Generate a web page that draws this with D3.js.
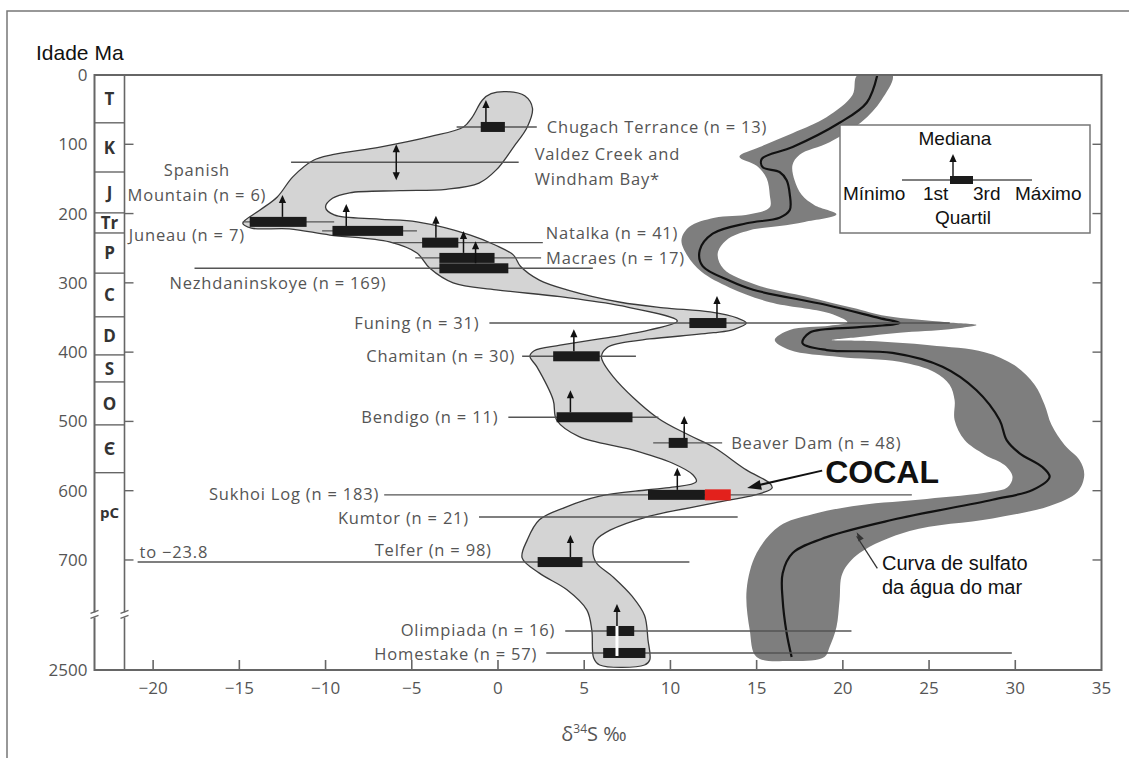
<!DOCTYPE html>
<html>
<head>
<meta charset="utf-8">
<script src="https://cdn.jsdelivr.net/npm/d3@7/dist/d3.min.js"></script>
<style>
  body { margin: 0; background: #fff; }
  svg { display: block; }
</style>
</head>
<body>
<div id="chart"></div>
<script>
// -------------------- Data --------------------
const sampleNames = ["Chugach Terrance", "Valdez Creek and Windham Bay*", "Spanish Mountain", "Juneau",
  "Natalka", "Macraes", "Nezhdaninskoye", "Funing", "Chamitan", "Bendigo", "Beaver Dam",
  "Sukhoi Log", "Kumtor", "Telfer", "Olimpiada", "Homestake"];
const sampleN   = [13, null, 6, 7, 41, 17, 169, 31, 30, 11, 48, 183, 21, 98, 16, 57];
const sampleAge = [75, 126, 212, 225, 242, 264, 279, 358, 406, 494, 531, 606, 638, 703, 1271, 1964];
const sampleMin = [-2.4, -12.0, -14.8, -10.2, -6.1, -4.8, -17.6, -0.5, 1.4, 0.6, 9.0, -6.6, -1.1, -23.8, 3.9, 2.8];
const sampleQ1  = [-1.0, null, -14.4, -9.6, -4.4, -3.4, -3.4, 11.1, 3.2, 3.4, 9.9, 8.7, null, 2.3, 6.3, 6.1];
const sampleMed = [-0.7, -5.9, -12.5, -8.8, -3.6, -2.0, -1.3, 12.7, 4.4, 4.2, 10.8, 10.4, null, 4.2, 6.9, null];
const sampleQ3  = [0.4, null, -11.1, -5.5, -2.3, -0.2, 0.6, 13.25, 5.9, 7.8, 11.0, 12.0, null, 4.9, 7.9, 8.55];
const sampleMax = [2.25, 1.2, -9.5, -4.7, 2.6, 2.5, 5.5, 26.2, 8.0, 9.3, 13.0, 24.0, 13.9, 11.1, 20.5, 29.8];

const cocalRange = [12.0, 13.5];
const cocalArrow = [[18.8, 571], [14.45, 596]];
const curvaArrow = [[22.0, 712], [20.8, 660]];

const periodNames  = ["T", "K", "J", "Tr", "P", "C", "D", "S", "O", "Є", "pC"];
const periodBounds = [0, 69, 140, 199, 228, 286, 349, 404, 443, 505, 574];

const ageTicks = [0, 100, 200, 300, 400, 500, 600, 700, 2500];
const dTicks = [-20, -15, -10, -5, 0, 5, 10, 15, 20, 25, 30, 35];

// envelope of ore-deposit sulfur values (light grey band), [d34S, age]
const envelope = [[0.5,24],[1.55,30],[2.0,48],[1.7,75],[0.9,104],[-0.1,137],[-1.1,156],[-3.0,165],
  [-5.7,167],[-8.6,170],[-9.6,178],[-10.0,191],[-9.5,202],[-6.9,208],[-4.7,212],[-1.6,231],[-0.2,245],
  [0.9,260],[1.3,276],[2.4,296],[4.0,310],[7.1,328],[9.6,336],[12.3,342],[13.9,351],[14.4,358],
  [13.7,367],[12.5,372],[8.8,381],[7.1,387],[6.3,394],[6.0,407],[6.7,436],[9.2,494],[11.1,520],
  [12.5,537],[14.4,570],[15.75,589],[15.9,596],[15.35,603],[12.5,618],[8.6,638],[6.5,657],[5.7,671],
  [5.5,686],[5.7,704],[6.65,724],[7.8,753],[8.5,780],[8.7,1555],[8.8,2185],[8.5,2342],[5.9,2342],
  [5.55,2122],[5.44,1240],[5.15,772],[4.0,743],[2.4,719],[1.4,697],[1.7,671],[2.4,642],[3.9,624],
  [5.9,608],[8.6,599],[10.1,595],[11.5,587],[11.3,577],[10.1,560],[7.8,541],[4.7,522],[3.4,498],
  [3.2,469],[2.25,421],[1.85,406],[2.1,398],[3.6,390],[6.65,378],[8.8,368],[10.4,355],[7.1,333],
  [3.6,320],[-0.1,310],[-2.6,300],[-3.95,279],[-4.7,257],[-6.3,241],[-9.75,231],[-12.1,222],
  [-14.3,221],[-14.8,214],[-13.8,195],[-12.8,176],[-11.9,147],[-10.7,123],[-9.6,115],[-6.85,104],
  [-3.95,89],[-2.0,75],[-1.5,61],[-0.9,36],[-0.4,27]];

// seawater sulfate band (dark grey), [d34S, age]
const seawaterBand = [[20.85,0],[22.88,0],[22.24,36],[21.08,68],[19.23,97],[17.49,115],[17.08,130],
  [17.2,152],[17.61,173],[18.36,188],[19.63,201],[17.78,212],[16.33,218],[14.6,224],[13.26,238],
  [12.74,258],[13.09,280],[15.0,303],[17.9,320],[20.56,336],[22.53,348],[26.0,357],[27.75,361],
  [26.18,367],[23.29,372],[20.97,378],[19.35,382.5],[21.55,384],[25.03,390],[28.22,400],[29.96,419],
  [31.12,447],[31.7,476],[32.1,505],[32.86,534],[33.73,556],[34.0,577],[33.6,602],[31.99,622],
  [28.68,640],[23.87,658],[20.97,690],[19.98,719],[19.81,758],[19.63,1145],[19.23,1775],[18.93,2090],
  [16.92,2216],[15.0,2090],[14.6,1240],[14.42,743],[15.0,690],[16.33,651],[18.24,634],[20.97,621],
  [24.86,612],[28.51,602],[29.55,595],[29.84,580],[29.38,563],[28.22,548],[27.06,527],[26.48,498],
  [26.48,469],[26.19,447],[25.32,429],[23.29,414],[19.81,407],[16.92,397],[16.05,382.5],[16.92,368],
  [19.23,362],[20.27,357],[19.23,344],[15.76,328],[13.44,307],[11.8,284],[10.99,261],[10.64,238],
  [11.1,219],[12.56,206],[14.6,201],[15.76,191],[15.76,173],[15.58,149],[15.0,131],[14.0,118],
  [15.18,104],[17.08,84],[19.05,61],[20.56,29]];

// seawater sulfate curve (black line), [d34S, age]
const seawaterLine = [[22.0,0],[21.38,40],[19.81,69],[17.09,104],[15.3,121],[15.35,133],[16.33,140],
  [16.74,152],[16.92,172],[16.92,195],[16.33,206],[14.42,214],[12.45,229],[11.7,253],[11.87,276],
  [13.44,297],[14.8,310],[19.06,332],[22.13,351],[23.29,358],[20.97,364],[18.07,372],[17.66,387],
  [19.06,397],[22.88,401],[25.78,421],[27.75,455],[29.09,498],[29.5,527],[30.25,546],[31.58,566],
  [31.99,580],[31.0,599],[28.68,613],[22.88,642],[19.06,667],[17.09,690],[16.51,719],[16.51,758],
  [16.74,1334],[17.03,2090]];

// -------------------- Label layout --------------------
const labelLayout = [
  { at: "max", dx: 10, dy: 0, anchor: "start" },
  { at: "max", dx: 16, dy: -8, anchor: "start", lines: ["Valdez Creek and", "Windham Bay*"] },
  { at: -17.46, dx: 0, dy: -52, anchor: "middle", lines: ["Spanish", "Mountain (n = 6)"] },
  { at: -14.68, dx: 0, dy: 4, anchor: "end" },
  { at: "max", dx: 3, dy: -9, anchor: "start" },
  { at: "max", dx: 5, dy: 0, anchor: "start" },
  { at: "min", dx: -25, dy: 15, anchor: "start" },
  { at: "min", dx: -10, dy: 0, anchor: "end" },
  { at: "min", dx: -7, dy: 0, anchor: "end" },
  { at: "min", dx: -10, dy: 0, anchor: "end" },
  { at: "max", dx: 9, dy: 0, anchor: "start" },
  { at: "min", dx: -5, dy: -1, anchor: "end" },
  { at: "min", dx: -10, dy: 1, anchor: "end" },
  { at: -0.36, dx: 0, dy: -12, anchor: "end" },
  { at: "min", dx: -10, dy: -1, anchor: "end" },
  { at: "min", dx: -9, dy: 1, anchor: "end" }
];
const clipMin = -20.9;   // Telfer minimum runs off the chart ("to -23.8")

// -------------------- SVG container --------------------
const width = 1129, height = 758;
const svg = d3.select("#chart").append("svg")
  .attr("width", width).attr("height", height);

const x = d3.scaleLinear().domain([-23.4, 35]).range([94.5, 1101.5]);
const y = d3.scaleLinear().domain([0, 780, 2500]).range([75, 615.4, 670]);

const plotL = x.range()[0], plotR = x.range()[1];
const plotT = y.range()[0], plotB = y.range()[2];
const colRight = plotL + 30;
const grey = "#666", textGrey = "#555";
const labelFont = "'Open Sans', sans-serif";
const arialFont = "'Liberation Sans', Arial, sans-serif";

// outer border of the figure
svg.append("path")
  .attr("d", `M7,${height} V11 H${width}`)
  .attr("fill", "none").attr("stroke", "#777").attr("stroke-width", 1.5);

svg.append("defs").append("clipPath").attr("id", "plot")
  .append("rect").attr("x", plotL).attr("y", plotT)
  .attr("width", plotR - plotL).attr("height", plotB - plotT);

const plot = svg.append("g").attr("clip-path", "url(#plot)");

// -------------------- Seawater sulfate --------------------
plot.append("path")
  .attr("d", d3.line().x(d => x(d[0])).y(d => y(d[1]))
    .curve(d3.curveCatmullRomClosed.alpha(0.5))(seawaterBand))
  .attr("fill", "#7e7e7e");

plot.append("path")
  .attr("d", d3.line().x(d => x(d[0])).y(d => y(d[1]))
    .curve(d3.curveCatmullRom.alpha(0.5))(seawaterLine))
  .attr("fill", "none").attr("stroke", "#111").attr("stroke-width", 2.2);

// -------------------- Envelope --------------------
plot.append("path")
  .attr("d", d3.line().x(d => x(d[0])).y(d => y(d[1]))
    .curve(d3.curveCatmullRomClosed.alpha(0.5))(envelope))
  .attr("fill", "#d4d4d4").attr("stroke", "#3a3a3a").attr("stroke-width", 1.3);

// -------------------- Box plots --------------------
const samples = sampleNames.map((name, i) => ({
  name, n: sampleN[i], age: sampleAge[i], min: sampleMin[i], q1: sampleQ1[i],
  med: sampleMed[i], q3: sampleQ3[i], max: sampleMax[i], layout: labelLayout[i]
}));
const boxH = 10;

const whisk = svg.append("g");
whisk.selectAll("line").data(samples).join("line")
  .attr("x1", d => x(Math.max(d.min, clipMin))).attr("x2", d => x(d.max))
  .attr("y1", d => y(d.age)).attr("y2", d => y(d.age))
  .attr("stroke", "#555").attr("stroke-width", 1.4);

const boxed = samples.filter(d => d.q1 != null);
svg.append("g").selectAll("rect").data(boxed).join("rect")
  .attr("x", d => x(d.q1)).attr("width", d => x(d.q3) - x(d.q1))
  .attr("y", d => y(d.age) - boxH / 2).attr("height", boxH)
  .attr("fill", "#1b1b1b");

// COCAL interval on the Sukhoi Log row
const sukhoi = samples[sampleNames.indexOf("Sukhoi Log")];
svg.append("rect")
  .attr("x", x(cocalRange[0])).attr("width", x(cocalRange[1]) - x(cocalRange[0]))
  .attr("y", y(sukhoi.age) - 5.5).attr("height", 11)
  .attr("fill", "#e3211c");

// white split through the Olimpiada / Homestake boxes
const olim = samples[sampleNames.indexOf("Olimpiada")];
const home = samples[sampleNames.indexOf("Homestake")];
svg.append("line")
  .attr("x1", x(olim.med)).attr("x2", x(olim.med))
  .attr("y1", y(olim.age) - boxH / 2).attr("y2", y(home.age) + 3)
  .attr("stroke", "#fff").attr("stroke-width", 3);

function arrowHead(g, cx, tipY, dir) {
  // dir = -1 points up, +1 points down
  g.append("path")
    .attr("d", `M${cx},${tipY} L${cx - 3.6},${tipY - dir * 8} L${cx + 3.6},${tipY - dir * 8} Z`)
    .attr("fill", "#111");
}

const arrows = svg.append("g");
samples.filter(d => d.med != null && d.q1 != null).forEach(d => {
  const cx = x(d.med), base = y(d.age) - boxH / 2, tip = base - 22;
  arrows.append("line").attr("x1", cx).attr("x2", cx).attr("y1", base).attr("y2", tip + 6)
    .attr("stroke", "#111").attr("stroke-width", 1.5);
  arrowHead(arrows, cx, tip, -1);
});

// Valdez Creek: double-headed arrow, no box
const valdez = samples[1];
{
  const cx = x(valdez.med), cy = y(valdez.age);
  arrows.append("line").attr("x1", cx).attr("x2", cx).attr("y1", cy - 12).attr("y2", cy + 12)
    .attr("stroke", "#111").attr("stroke-width", 1.5);
  arrowHead(arrows, cx, cy - 18, -1);
  arrowHead(arrows, cx, cy + 18, 1);
}

// -------------------- Sample labels --------------------
const labels = svg.append("g")
  .attr("font-family", labelFont).attr("font-size", 16.5).attr("letter-spacing", 0.8)
  .attr("fill", textGrey);

samples.forEach(d => {
  const L = d.layout;
  const ax = L.at === "max" ? x(d.max) : L.at === "min" ? x(Math.max(d.min, clipMin)) : x(L.at);
  const lines = L.lines || [`${d.name} (n = ${d.n})`];
  lines.forEach((t, k) => {
    labels.append("text")
      .attr("x", ax + L.dx).attr("y", y(d.age) + L.dy + k * 25)
      .attr("dy", "0.35em").attr("text-anchor", L.anchor)
      .text(t);
  });
});

labels.append("text")
  .attr("x", x(clipMin) + 2).attr("y", y(sampleAge[13]) - 10).attr("dy", "0.35em")
  .text("to −23.8");

// -------------------- Annotations --------------------
svg.append("line")
  .attr("x1", x(cocalArrow[0][0])).attr("y1", y(cocalArrow[0][1]))
  .attr("x2", x(cocalArrow[1][0]) + 8).attr("y2", y(cocalArrow[1][1]) - 2)
  .attr("stroke", "#111").attr("stroke-width", 2);
{
  const tx = x(cocalArrow[1][0]), ty = y(cocalArrow[1][1]);
  const ang = Math.atan2(y(cocalArrow[0][1]) - ty, x(cocalArrow[0][0]) - tx);
  const L = 14, w = 5;
  const bx = tx + L * Math.cos(ang), by = ty + L * Math.sin(ang);
  svg.append("path")
    .attr("d", `M${tx},${ty} L${bx - w * Math.sin(ang)},${by + w * Math.cos(ang)} L${bx + w * Math.sin(ang)},${by - w * Math.cos(ang)} Z`)
    .attr("fill", "#111");
}
svg.append("text")
  .attr("x", x(cocalArrow[0][0]) + 3).attr("y", y(cocalArrow[0][1]) + 12)
  .attr("font-family", arialFont).attr("font-weight", "bold").attr("font-size", 32)
  .attr("fill", "#111").text("COCAL");

svg.append("line")
  .attr("x1", x(curvaArrow[0][0])).attr("y1", y(curvaArrow[0][1]))
  .attr("x2", x(curvaArrow[1][0])).attr("y2", y(curvaArrow[1][1]) + 4)
  .attr("stroke", "#333").attr("stroke-width", 1.3);
{
  const tx = x(curvaArrow[1][0]), ty = y(curvaArrow[1][1]);
  const ang = Math.atan2(y(curvaArrow[0][1]) - ty, x(curvaArrow[0][0]) - tx);
  const L = 9, w = 3;
  const bx = tx + L * Math.cos(ang), by = ty + L * Math.sin(ang);
  svg.append("path")
    .attr("d", `M${tx},${ty} L${bx - w * Math.sin(ang)},${by + w * Math.cos(ang)} L${bx + w * Math.sin(ang)},${by - w * Math.cos(ang)} Z`)
    .attr("fill", "#333");
}
const curva = svg.append("g").attr("font-family", arialFont).attr("font-size", 20).attr("fill", "#111");
curva.append("text").attr("x", 882).attr("y", 570).text("Curva de sulfato");
curva.append("text").attr("x", 882).attr("y", 594).text("da água do mar");

// -------------------- Legend --------------------
const lg = svg.append("g").attr("font-family", arialFont).attr("font-size", 19).attr("fill", "#111");
lg.append("rect").attr("x", 840).attr("y", 125).attr("width", 250).attr("height", 108)
  .attr("fill", "#fff").attr("stroke", "#777").attr("stroke-width", 1.5);
lg.append("line").attr("x1", 902).attr("x2", 1032).attr("y1", 180).attr("y2", 180)
  .attr("stroke", "#555").attr("stroke-width", 1.4);
lg.append("rect").attr("x", 950).attr("y", 176).attr("width", 23).attr("height", 8).attr("fill", "#1b1b1b");
lg.append("line").attr("x1", 953).attr("x2", 953).attr("y1", 176).attr("y2", 160)
  .attr("stroke", "#111").attr("stroke-width", 1.4);
arrowHead(lg, 953, 154, -1);
lg.append("text").attr("x", 955).attr("y", 145).attr("text-anchor", "middle").text("Mediana");
lg.append("text").attr("x", 843).attr("y", 200).text("Mínimo");
lg.append("text").attr("x", 923).attr("y", 200).text("1st");
lg.append("text").attr("x", 973).attr("y", 200).text("3rd");
lg.append("text").attr("x", 1015).attr("y", 200).text("Máximo");
lg.append("text").attr("x", 963).attr("y", 224).attr("text-anchor", "middle").text("Quartil");

// -------------------- Frame, period column and axes --------------------
const frame = svg.append("g").attr("stroke", grey).attr("fill", "none");
frame.append("rect").attr("x", plotL).attr("y", plotT)
  .attr("width", plotR - plotL).attr("height", plotB - plotT).attr("stroke-width", 2);
frame.append("line").attr("x1", colRight).attr("x2", colRight).attr("y1", plotT).attr("y2", plotB)
  .attr("stroke-width", 1.6);
frame.selectAll(".pb").data(periodBounds.slice(1)).join("line")
  .attr("x1", plotL).attr("x2", colRight).attr("y1", d => y(d)).attr("y2", d => y(d))
  .attr("stroke-width", 1.4);

const inner = ageTicks.filter(a => a > 0 && a < 2500);
frame.selectAll(".tl").data(inner).join("line")
  .attr("x1", colRight).attr("x2", colRight + 9).attr("y1", d => y(d)).attr("y2", d => y(d))
  .attr("stroke-width", 1.4);
frame.selectAll(".tr").data(inner).join("line")
  .attr("x1", plotR).attr("x2", plotR - 9).attr("y1", d => y(d)).attr("y2", d => y(d))
  .attr("stroke-width", 1.4);
frame.selectAll(".tx").data(dTicks.filter(v => v < 35)).join("line")
  .attr("x1", d => x(d)).attr("x2", d => x(d)).attr("y1", plotB).attr("y2", plotB - 10)
  .attr("stroke-width", 1.6);

// axis break marks
const brk = y(780) - 1;
[plotL, colRight].forEach(bx => {
  svg.append("rect").attr("x", bx - 4).attr("y", brk - 2).attr("width", 8).attr("height", 5).attr("fill", "#fff");
  svg.append("path")
    .attr("d", `M${bx - 4},${brk - 1} L${bx + 4},${brk - 4} M${bx - 4},${brk + 4} L${bx + 4},${brk + 1}`)
    .attr("stroke", grey).attr("stroke-width", 1.3);
});

svg.append("g").attr("font-family", labelFont).attr("font-weight", "bold")
  .attr("font-size", 17).attr("fill", "#333").attr("text-anchor", "middle")
  .selectAll("text").data(periodNames).join("text")
  .attr("x", (plotL + colRight) / 2)
  .attr("y", (d, i) => i < periodNames.length - 1 ? y((periodBounds[i] + periodBounds[i + 1]) / 2) : y(632))
  .attr("dy", "0.36em")
  .attr("font-size", d => d === "pC" ? 15 : 17)
  .text(d => d);

svg.append("g").attr("font-family", labelFont).attr("font-size", 17).attr("fill", textGrey)
  .attr("text-anchor", "end")
  .selectAll("text").data(ageTicks).join("text")
  .attr("x", plotL - 7).attr("y", d => y(d)).attr("dy", "0.35em")
  .text(d => d);

svg.append("g").attr("font-family", labelFont).attr("font-size", 17).attr("fill", textGrey)
  .attr("text-anchor", "middle")
  .selectAll("text").data(dTicks).join("text")
  .attr("x", d => x(d)).attr("y", plotB + 24)
  .text(d => d3.format("d")(d));

const xt = svg.append("text").attr("x", (plotL + plotR) / 2 - 4).attr("y", 741)
  .attr("font-family", labelFont).attr("font-size", 20).attr("fill", textGrey)
  .attr("text-anchor", "middle");
xt.append("tspan").text("δ");
xt.append("tspan").attr("font-size", 12).attr("dy", -8).text("34");
xt.append("tspan").attr("dy", 8).text("S ‰");

svg.append("text").attr("x", 36).attr("y", 60)
  .attr("font-family", arialFont).attr("font-size", 21).attr("fill", "#111")
  .text("Idade Ma");
</script>
</body>
</html>
